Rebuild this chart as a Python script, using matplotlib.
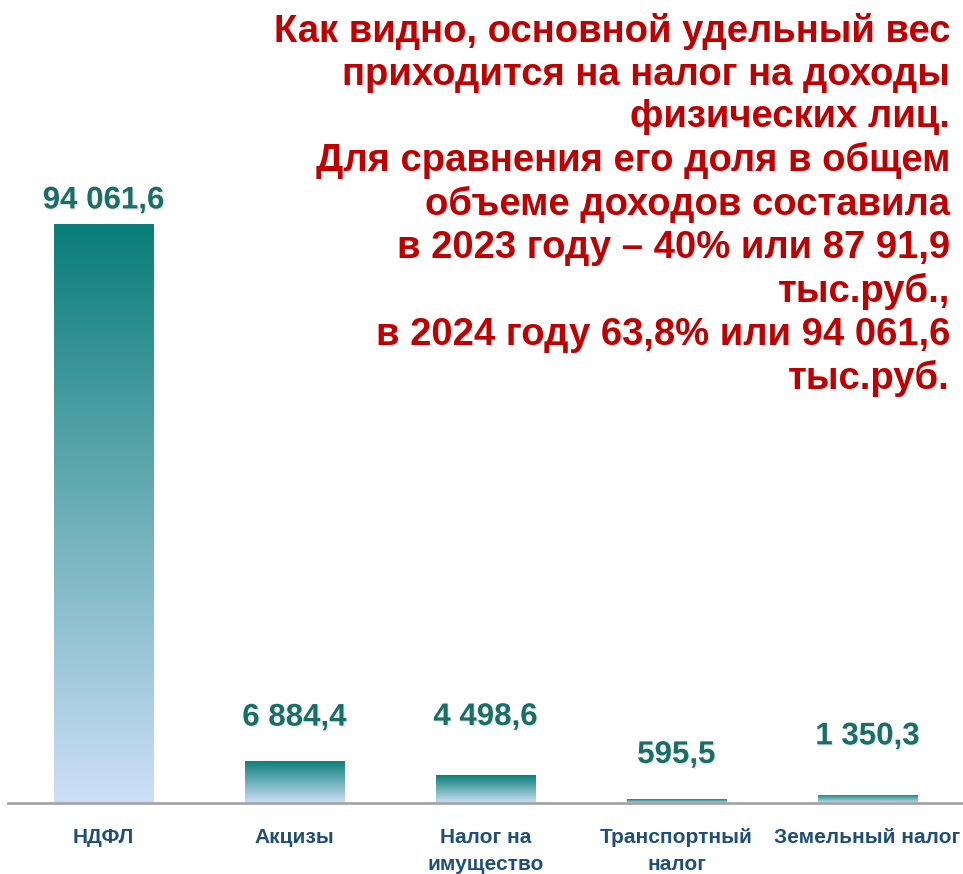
import numpy as np
import matplotlib.pyplot as plt
import matplotlib.patheffects as pe
from matplotlib.colors import LinearSegmentedColormap

# --- data ---
categories = ['НДФЛ', 'Акцизы', 'Налог на\nимущество', 'Транспортный\nналог', 'Земельный налог']
values = [94061.6, 6884.4, 4498.6, 595.5, 1350.3]
value_labels = ['94 061,6', '6 884,4', '4 498,6', '595,5', '1 350,3']
# vertical offset of each value label above its bar (points)
label_offsets = [17, 31, 42, 32, 42]

title = ('Как видно, основной удельный вес\n'
         'приходится на налог на доходы\n'
         'физических лиц.\n'
         'Для сравнения его доля в общем\n'
         'объеме доходов составила\n'
         'в 2023 году – 40% или 87 91,9\n'
         'тыс.руб.,\n'
         'в 2024 году 63,8% или 94 061,6\n'
         'тыс.руб.')

plt.rcParams['font.family'] = ['Liberation Sans', 'DejaVu Sans']

fig = plt.figure(figsize=(9.63, 8.74), dpi=100)
ax = fig.add_axes([8 / 963, 1 - 803 / 874, 955 / 963, 803 / 874])

cmap = LinearSegmentedColormap.from_list('bar', ['#cddff8', '#0a7e78'])
grad = np.linspace(0, 1, 256).reshape(-1, 1)

x = np.arange(len(categories))
bars = ax.bar(x, values, width=0.52, color='none', edgecolor='none')
for b in bars:
    x0, y0 = b.get_x(), b.get_y()
    img = ax.imshow(grad, cmap=cmap, origin='lower', aspect='auto',
                    extent=[x0, x0 + b.get_width(), y0, y0 + b.get_height()],
                    interpolation='bicubic', zorder=2)
    img.set_clip_path(b)

ax.set_xlim(-0.5, len(categories) - 0.5)
ax.set_ylim(0, max(values) * 1.387)

for xi, v, lab, off in zip(x, values, value_labels, label_offsets):
    ax.annotate(lab, (xi, v), xytext=(0, off), textcoords='offset points',
                ha='center', va='center', fontsize=22.5, fontweight='bold',
                color='#1a6e68', zorder=4,
                path_effects=[pe.withSimplePatchShadow(offset=(1, -1), shadow_rgbFace='#bbbbbb', alpha=0.35)])

for s in ['top', 'right', 'left']:
    ax.spines[s].set_visible(False)
ax.spines['bottom'].set_color('#a6a6a6')
ax.spines['bottom'].set_linewidth(2)
ax.set_yticks([])
ax.set_xticks(x)
ax.set_xticklabels(categories, fontsize=15, fontweight='bold', color='#1f4e79',
                   linespacing=1.5, va='top')
ax.tick_params(axis='x', length=0, pad=18)

fig.text(950 / 963, 1 - 13 / 874, title, ha='right', va='top', fontsize=27.5,
         fontweight='bold', color='#c00000', linespacing=1.24)

fig.savefig('out.png', dpi=100)
